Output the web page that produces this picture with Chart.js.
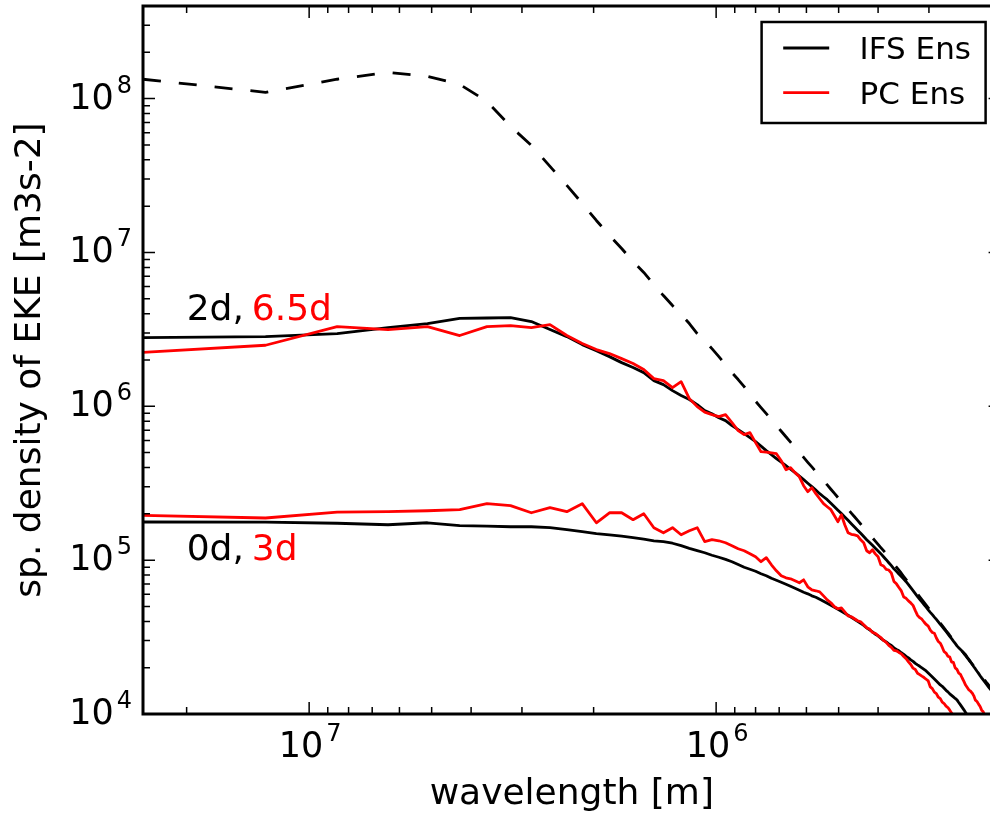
<!DOCTYPE html>
<html>
<head>
<meta charset="utf-8">
<script src="https://cdn.jsdelivr.net/npm/chart.js@4.4.1/dist/chart.umd.min.js"></script>
<style>
  html, body { margin: 0; padding: 0; overflow: hidden; background: #ffffff; }
  canvas { display: block; }
</style>
</head>
<body>
<canvas id="c" width="1010" height="816"></canvas>
<script>
// ---------------- data ----------------
// spectral wavenumber index (categories); wavelength = domainLength / wavenumber
const domainLength = 2.56e7; // m
const wavenumber = [
  1,2,3,4,5,6,7,8,9,10,11,12,13,14,15,16,17,18,19,20,
  21,22,23,24,25,26,27,28,29,30,31,32,33,34,35,36,37,38,39,40,
  41,42,43,44,45,46,47,48,49,50,51,52,53,54,55,56,57,58,59,60,
  61,62,63,64,65,66,67,68,69,70,71,72,73,74,75,76,77,78,79,80,
  81,82,83,84,85,86,87,88,89,90,91,92,93,94,95,96,97,98,99,100,
  101,102,103,104,105,106,107,108,109,110,111,112,113,114,115,116,117,118,119,120,
  121,122,123,124,125,126,127,128
];

// log10 of spectral density of EKE [m3 s-2]
const refDashedLog10 = [
  8.126,8.041,8.126,8.171,8.145,8.093,7.982,7.820,7.696,7.560,
  7.436,7.319,7.208,7.111,7.026,6.941,6.870,6.792,6.720,6.655,
  6.597,6.538,6.473,6.427,6.375,6.323,6.271,6.219,6.174,6.128,
  6.076,6.033,5.992,5.952,5.913,5.875,5.838,5.802,5.767,5.733,
  5.700,5.668,5.636,5.606,5.576,5.546,5.517,5.489,5.461,5.434,
  5.407,5.381,5.356,5.331,5.306,5.282,5.258,5.235,5.212,5.189,
  5.167,5.145,5.124,5.103,5.082,5.062,5.041,5.022,5.002,4.976,
  4.955,4.935,4.915,4.894,4.874,4.855,4.836,4.817,4.798,4.780,
  4.761,4.743,4.725,4.708,4.690,4.673,4.656,4.639,4.623,4.606,
  4.590,4.574,4.558,4.542,4.527,4.511,4.496,4.481,4.466,4.451,
  4.437,4.422,4.408,4.393,4.379,4.365,4.351,4.338,4.324,4.311,
  4.298,4.284,4.271,4.258,4.245,4.233,4.220,4.207,4.195,4.183,
  4.170,4.158,4.146,4.134,4.123,4.111,4.099,4.088
];

const ifs2dLog10 = [
  6.447,6.453,6.473,6.512,6.538,6.571,6.574,6.577,6.551,6.499,
  6.453,6.401,6.362,6.323,6.284,6.252,6.219,6.167,6.141,6.102,
  6.070,6.044,6.011,5.972,5.952,5.926,5.907,5.874,5.848,5.822,
  5.796,5.770,5.741,5.712,5.686,5.660,5.637,5.614,5.591,5.569,
  5.546,5.523,5.500,5.478,5.455,5.432,5.412,5.393,5.370,5.347,
  5.325,5.303,5.281,5.259,5.237,5.216,5.195,5.175,5.154,5.133,
  5.115,5.097,5.078,5.060,5.042,5.022,5.003,4.983,4.964,4.944,
  4.927,4.910,4.894,4.877,4.860,4.841,4.821,4.802,4.782,4.763,
  4.746,4.729,4.711,4.694,4.677,4.661,4.646,4.630,4.615,4.599,
  4.583,4.568,4.552,4.537,4.521,4.505,4.490,4.474,4.459,4.443,
  4.431,4.420,4.408,4.397,4.385,4.369,4.354,4.338,4.323,4.307,
  4.293,4.278,4.264,4.249,4.235,4.222,4.209,4.196,4.183,4.170,
  4.158,4.146,4.134,4.122,4.110,4.097,4.085,4.073
];

const pc65dLog10 = [
  6.351,6.397,6.518,6.499,6.518,6.460,6.518,6.525,6.512,6.531,
  6.460,6.408,6.369,6.343,6.310,6.278,6.239,6.180,6.167,6.121,
  6.160,6.050,5.998,5.962,5.946,5.933,5.946,5.894,5.842,5.816,
  5.829,5.764,5.705,5.702,5.698,5.692,5.646,5.588,5.601,5.569,
  5.542,5.484,5.445,5.471,5.432,5.399,5.367,5.347,5.328,5.289,
  5.250,5.295,5.230,5.178,5.168,5.164,5.158,5.132,5.113,5.061,
  5.048,5.067,5.041,5.022,4.970,4.962,4.940,4.936,4.915,4.862,
  4.846,4.822,4.800,4.760,4.752,4.735,4.722,4.706,4.672,4.641,
  4.626,4.616,4.598,4.582,4.571,4.545,4.530,4.525,4.494,4.471,
  4.460,4.434,4.405,4.396,4.376,4.370,4.338,4.336,4.300,4.290,
  4.266,4.258,4.234,4.212,4.188,4.172,4.156,4.148,4.136,4.118,
  4.090,4.081,4.064,4.049,4.025,4.015,3.992,3.977,3.947,3.931,
  3.910,3.893,3.878,3.860,3.842,3.829,3.810,3.792
];

const ifs0dLog10 = [
  5.248,5.247,5.240,5.230,5.243,5.224,5.221,5.217,5.217,5.211,
  5.198,5.185,5.172,5.165,5.156,5.146,5.136,5.126,5.120,5.110,
  5.094,5.077,5.062,5.048,5.032,5.019,5.005,4.990,4.972,4.954,
  4.941,4.928,4.912,4.899,4.882,4.869,4.856,4.843,4.830,4.817,
  4.804,4.791,4.781,4.768,4.759,4.746,4.733,4.720,4.707,4.694,
  4.681,4.668,4.655,4.642,4.629,4.616,4.602,4.589,4.576,4.560,
  4.547,4.534,4.518,4.508,4.492,4.479,4.469,4.456,4.446,4.430,
  4.420,4.411,4.398,4.388,4.375,4.365,4.352,4.342,4.329,4.319,
  4.310,4.300,4.290,4.280,4.267,4.254,4.241,4.228,4.215,4.202,
  4.189,4.180,4.167,4.154,4.144,4.131,4.121,4.111,4.101,4.092,
  4.075,4.059,4.043,4.027,4.010,3.993,3.976,3.960,3.943,3.927,
  3.911,3.895,3.879,3.863,3.847,3.832,3.817,3.802,3.787,3.772,
  3.757,3.742,3.728,3.714,3.700,3.686,3.672,3.658
];

const pc3dLog10 = [
  5.291,5.274,5.312,5.315,5.321,5.328,5.367,5.354,5.308,5.341,
  5.315,5.367,5.243,5.308,5.308,5.263,5.302,5.211,5.178,5.211,
  5.165,5.191,5.211,5.120,5.133,5.126,5.113,5.094,5.074,5.061,
  5.042,5.022,4.990,5.016,4.970,4.931,4.899,4.885,4.879,4.866,
  4.853,4.872,4.827,4.807,4.801,4.794,4.768,4.742,4.723,4.697,
  4.684,4.690,4.664,4.638,4.632,4.619,4.606,4.599,4.580,4.560,
  4.552,4.530,4.524,4.510,4.497,4.478,4.466,4.446,4.433,4.414,
  4.411,4.400,4.391,4.374,4.359,4.339,4.322,4.298,4.289,4.265,
  4.256,4.246,4.237,4.226,4.215,4.176,4.165,4.142,4.133,4.109,
  4.100,4.077,4.068,4.051,4.042,4.025,4.007,3.988,3.970,3.955,
  3.940,3.925,3.910,3.895,3.880,3.865,3.850,3.835,3.820,3.805,
  3.790,3.775,3.760,3.745,3.730,3.715,3.700,3.685,3.670,3.655,
  3.640,3.625,3.610,3.595,3.580,3.565,3.550,3.535
];

// tick values and labels ("base^exponent")
const xTickValues = [1e6, 1e7];
const xTickLabels = ['10^6', '10^7'];
const xMinorTickValues = [2e5,3e5,4e5,5e5,6e5,7e5,8e5,9e5,2e6,3e6,4e6,5e6,6e6,7e6,8e6,9e6,2e7];
const yTickValues = [1e4, 1e5, 1e6, 1e7, 1e8];
const yTickLabels = ['10^4', '10^5', '10^6', '10^7', '10^8'];
const yMinorTickValues = [
  2e4,3e4,4e4,5e4,6e4,7e4,8e4,9e4,
  2e5,3e5,4e5,5e5,6e5,7e5,8e5,9e5,
  2e6,3e6,4e6,5e6,6e6,7e6,8e6,9e6,
  2e7,3e7,4e7,5e7,6e7,7e7,8e7,9e7,
  2e8,3e8,4e8
];

const legendLabels = ['IFS Ens', 'PC Ens'];
const legendColors = ['#000000', '#ff0000'];

// ---------------- build ----------------
const FONT = 'DejaVu Sans';
function toPoints(logs) {
  return wavenumber.map((n, i) => ({ x: domainLength / n, y: Math.pow(10, logs[i]) }));
}
function tickList(major, minor) {
  return major.concat(minor).sort((a, b) => a - b).map(v => ({ value: v }));
}

const solid = { borderWidth: 2.8, pointRadius: 0, tension: 0, fill: false, borderJoinStyle: 'round', borderCapStyle: 'butt' };

const datasets = [
  Object.assign({ label: 'reference', data: toPoints(refDashedLog10), borderColor: '#000000', borderDash: [18, 18], order: 4 }, solid),
  Object.assign({ label: 'IFS Ens 0d', data: toPoints(ifs0dLog10), borderColor: '#000000', order: 3 }, solid),
  Object.assign({ label: 'IFS Ens 2d', data: toPoints(ifs2dLog10), borderColor: '#000000', order: 3 }, solid),
  Object.assign({ label: 'PC Ens 3d', data: toPoints(pc3dLog10), borderColor: '#ff0000', order: 1 }, solid),
  Object.assign({ label: 'PC Ens 6.5d', data: toPoints(pc65dLog10), borderColor: '#ff0000', order: 1 }, solid)
];

const annotations = [
  { x: 2.0e7, y: 3.66e6, parts: [['2d,', '#000000'], ['6.5d', '#ff0000']] },
  { x: 2.0e7, y: 1.0e5, parts: [['0d,', '#000000'], ['3d', '#ff0000']] }
];

const MAIN_FONT = '35px "' + FONT + '"';
const EXP_FONT = '24px "' + FONT + '"';
function drawPowerLabel(ctx, label, x, baseline, align) {
  const [base, exp] = label.split('^');
  ctx.font = MAIN_FONT;
  const wb = ctx.measureText(base).width;
  ctx.font = EXP_FONT;
  const we = ctx.measureText(exp).width;
  const gap = 3;
  const total = wb + gap + we;
  let x0 = align === 'right' ? x - total : x - total / 2;
  ctx.textAlign = 'left';
  ctx.textBaseline = 'alphabetic';
  ctx.fillStyle = '#000000';
  ctx.font = MAIN_FONT;
  ctx.fillText(base, x0, baseline);
  ctx.font = EXP_FONT;
  ctx.fillText(exp, x0 + wb + gap, baseline - 16);
}

const framePlugin = {
  id: 'frame',
  afterDatasetsDraw(chart) {
    const { ctx, chartArea: a, scales } = chart;
    const xs = scales.x, ys = scales.y;
    ctx.save();
    // inward ticks on all four sides
    ctx.strokeStyle = '#000000';
    ctx.lineWidth = 1.5;
    ctx.beginPath();
    xs.ticks.forEach(t => {
      const p = xs.getPixelForValue(t.value);
      const len = xTickValues.includes(t.value) ? 12 : 7;
      ctx.moveTo(p, a.bottom); ctx.lineTo(p, a.bottom - len);
      ctx.moveTo(p, a.top); ctx.lineTo(p, a.top + len);
    });
    ys.ticks.forEach(t => {
      const p = ys.getPixelForValue(t.value);
      const len = yTickValues.includes(t.value) ? 12 : 7;
      ctx.moveTo(a.left, p); ctx.lineTo(a.left + len, p);
      ctx.moveTo(a.right, p); ctx.lineTo(a.right - len, p);
    });
    ctx.stroke();
    // axes frame
    ctx.lineWidth = 3;
    ctx.strokeRect(a.left, a.top, a.right - a.left, a.bottom - a.top);

    // tick labels (10 with superscript exponent), placed by the scales
    xTickValues.forEach((v, i) => {
      drawPowerLabel(ctx, xTickLabels[i], xs.getPixelForValue(v) + 1, a.bottom + 43, 'center');
    });
    yTickValues.forEach((v, i) => {
      drawPowerLabel(ctx, yTickLabels[i], a.left - 11, ys.getPixelForValue(v) + 10, 'right');
    });

    // text annotations
    ctx.font = '36px "' + FONT + '"';
    ctx.textBaseline = 'alphabetic';
    ctx.textAlign = 'left';
    annotations.forEach(an => {
      let px = xs.getPixelForValue(an.x);
      const py = ys.getPixelForValue(an.y);
      an.parts.forEach(([txt, col], k) => {
        ctx.fillStyle = col;
        ctx.fillText(txt, px, py);
        px += ctx.measureText(txt).width + 8;
      });
    });

    // legend
    const bw = 224, bh = 101;
    const bx = a.right - 15 - bw, by = a.top + 16;
    ctx.fillStyle = '#ffffff';
    ctx.fillRect(bx, by, bw, bh);
    ctx.lineWidth = 2.5;
    ctx.strokeStyle = '#000000';
    ctx.strokeRect(bx, by, bw, bh);
    ctx.font = '31px "' + FONT + '"';
    legendLabels.forEach((lab, i) => {
      const ly = by + 26 + i * 44.6;
      ctx.strokeStyle = legendColors[i];
      ctx.lineWidth = 2.8;
      ctx.beginPath();
      ctx.moveTo(bx + 21.6, ly);
      ctx.lineTo(bx + 67.6, ly);
      ctx.stroke();
      ctx.fillStyle = '#000000';
      ctx.fillText(lab, bx + 98, ly + 11.4);
    });
    ctx.restore();
  }
};

new Chart(document.getElementById('c'), {
  type: 'line',
  data: { datasets },
  options: {
    responsive: false,
    animation: false,
    events: [],
    layout: { padding: { top: 6, right: 9.4, bottom: 0, left: 0 } },
    scales: {
      x: {
        type: 'logarithmic',
        reverse: true,
        min: 2e5,
        max: 2.56e7,
        position: 'bottom',
        grid: { display: false },
        border: { display: false },
        afterBuildTicks: s => { s.ticks = tickList(xTickValues, xMinorTickValues); },
        afterFit: s => { s.height = 102; s.paddingLeft = 0; s.paddingRight = 0; },
        ticks: { display: false, autoSkip: false },
        title: { display: true, text: 'wavelength [m]', color: '#000000', font: { family: FONT, size: 36 }, padding: { top: 0, bottom: 0 } }
      },
      y: {
        type: 'logarithmic',
        min: 1e4,
        max: 4e8,
        position: 'left',
        grid: { display: false },
        border: { display: false },
        afterBuildTicks: s => { s.ticks = tickList(yTickValues, yMinorTickValues); },
        afterFit: s => { s.width = 143; s.paddingTop = 0; s.paddingBottom = 0; },
        ticks: { display: false, autoSkip: false },
        title: { display: true, text: 'sp. density of EKE [m3s-2]', color: '#000000', font: { family: FONT, size: 36 }, padding: { top: 9, bottom: 0 } }
      }
    },
    plugins: { legend: { display: false }, tooltip: { enabled: false } }
  },
  plugins: [framePlugin]
});
</script>
</body>
</html>
